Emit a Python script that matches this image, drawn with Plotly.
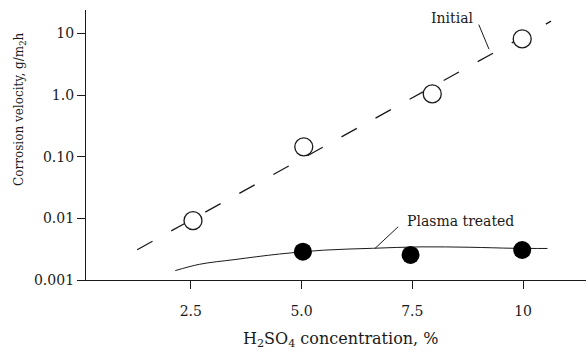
import plotly.graph_objects as go

# Data
initial_x = [2.55, 5.05, 7.95, 9.98]
initial_y = [0.0092, 0.145, 1.05, 8.2]

plasma_x = [5.03, 7.46, 9.98]
plasma_y = [0.00288, 0.00255, 0.00307]

# dashed trend for "Initial" (straight in log space)
initial_fit_x = [1.29, 10.63]
initial_fit_y = [0.0031, 15.9]

# smooth curve for "Plasma treated"
plasma_fit_x = [2.15, 2.7, 3.5, 4.5, 5.5, 6.6, 7.7, 8.8, 9.8, 10.55]
plasma_fit_y = [0.00142, 0.0018, 0.00215, 0.00264, 0.00305, 0.00327, 0.00345, 0.0034, 0.00327, 0.00325]

# leader lines for the labels
initial_leader_x = [9.0, 9.23]
initial_leader_y = [14.0, 5.6]
plasma_leader_x = [6.66, 7.18]
plasma_leader_y = [0.00327, 0.0073]

x_ticks = [2.5, 5.0, 7.5, 10]
x_tick_text = ["2.5", "5.0", "7.5", "10"]
y_ticks = [0.001, 0.01, 0.1, 1, 10]
y_tick_text = ["0.001", "0.01", "0.10", "1.0", "10"]

FONT = "DejaVu Serif"
INK = "#1a1a1a"

fig = go.Figure()

fig.add_trace(go.Scatter(
    x=initial_fit_x, y=initial_fit_y, mode="lines",
    line=dict(color=INK, width=1.3, dash="17.5px,21.4px"),
    showlegend=False, hoverinfo="skip"))
fig.add_trace(go.Scatter(
    x=plasma_fit_x, y=plasma_fit_y, mode="lines",
    line=dict(color=INK, width=1, shape="spline"),
    showlegend=False, hoverinfo="skip"))
fig.add_trace(go.Scatter(
    x=initial_leader_x, y=initial_leader_y, mode="lines",
    line=dict(color=INK, width=1), showlegend=False, hoverinfo="skip"))
fig.add_trace(go.Scatter(
    x=plasma_leader_x, y=plasma_leader_y, mode="lines",
    line=dict(color=INK, width=1), showlegend=False, hoverinfo="skip"))

fig.add_trace(go.Scatter(
    x=initial_x, y=initial_y, mode="markers", name="Initial",
    marker=dict(symbol="circle", size=18, color="white",
                line=dict(color=INK, width=1.3)),
    showlegend=False))
fig.add_trace(go.Scatter(
    x=plasma_x, y=plasma_y, mode="markers", name="Plasma treated",
    marker=dict(symbol="circle", size=18, color="black",
                line=dict(color="black", width=0)),
    showlegend=False))

fig.add_annotation(x=0.732, y=0.97, xref="paper", yref="paper",
                   text="Initial", showarrow=False,
                   font=dict(family=FONT, size=14, color=INK),
                   xanchor="center", yanchor="middle")
fig.add_annotation(x=0.638, y=0.217, xref="paper", yref="paper",
                   text="Plasma treated", showarrow=False,
                   font=dict(family=FONT, size=14, color=INK),
                   xanchor="left", yanchor="middle")

fig.add_annotation(x=-0.132, y=0.63, xref="paper", yref="paper",
                   text="Corrosion velocity, g/m<sub>2</sub>h", showarrow=False,
                   textangle=-90,
                   font=dict(family=FONT, size=12, color=INK),
                   xanchor="center", yanchor="middle")
fig.add_annotation(x=0.508, y=-0.222, xref="paper", yref="paper",
                   text="H<sub>2</sub>SO<sub>4</sub> concentration, %", showarrow=False,
                   font=dict(family=FONT, size=16, color=INK),
                   xanchor="center", yanchor="middle")

fig.update_xaxes(
    range=[0.135, 11.42], showgrid=False, zeroline=False,
    showline=True, linecolor=INK, linewidth=1.3,
    ticks="outside", ticklen=8, tickwidth=1, tickcolor=INK,
    tickvals=x_ticks, ticktext=x_tick_text, ticklabelstandoff=10,
    tickfont=dict(family=FONT, size=14, color=INK))
fig.update_yaxes(
    type="log", range=[-3, 1.383], showgrid=False, zeroline=False,
    showline=True, linecolor=INK, linewidth=1.3,
    ticks="outside", ticklen=8, tickwidth=1, tickcolor=INK,
    tickvals=y_ticks, ticktext=y_tick_text,
    tickfont=dict(family=FONT, size=14, color=INK))

fig.update_layout(
    width=586, height=354,
    margin=dict(l=86, r=0, t=10, b=74),
    plot_bgcolor="white", paper_bgcolor="white",
    font=dict(family=FONT, size=14, color=INK))

fig.write_html("out.html",
               config={"displayModeBar": False},
               post_script="document.body.style.margin='0';document.body.style.overflow='hidden';")
